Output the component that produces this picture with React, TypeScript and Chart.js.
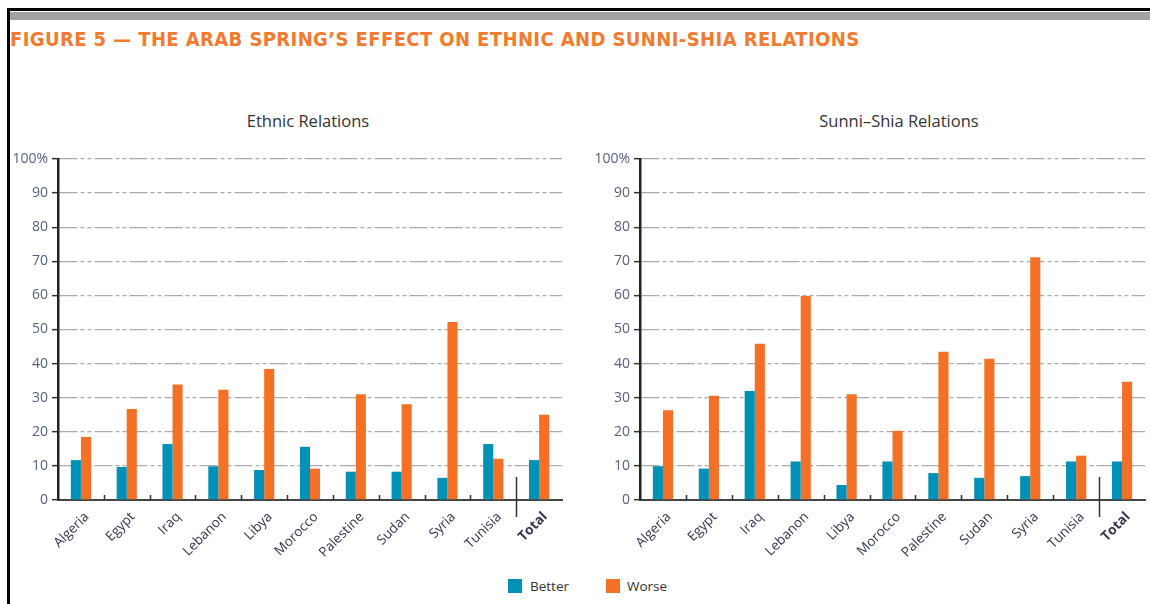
import React, { useEffect, useRef } from "react";
import { Chart, registerables } from "chart.js";

Chart.register(...registerables);

const categories = ["Algeria", "Egypt", "Iraq", "Lebanon", "Libya", "Morocco", "Palestine", "Sudan", "Syria", "Tunisia", "Total"];
const ethnicBetter = [11.7, 9.7, 16.4, 9.9, 8.8, 15.6, 8.3, 8.3, 6.5, 16.4, 11.7];
const ethnicWorse = [18.5, 26.7, 33.9, 32.3, 38.4, 9.2, 31.0, 28.1, 52.2, 12.1, 25.0];
const sunniBetter = [9.9, 9.2, 32.0, 11.3, 4.4, 11.3, 7.9, 6.5, 7.0, 11.3, 11.3];
const sunniWorse = [26.3, 30.6, 45.8, 59.8, 31.0, 20.3, 43.5, 41.4, 71.2, 13.0, 34.7];
const seriesNames = ["Better", "Worse"];
const panelTitles = ["Ethnic Relations", "Sunni\u2013Shia Relations"];
const figureTitle = "FIGURE 5 \u2014 THE ARAB SPRING\u2019S EFFECT ON ETHNIC AND SUNNI-SHIA RELATIONS";

const BLUE = "#0190b6";
const ORANGE = "#f47025";

const separatorPlugin = {
  id: "separators",
  afterDatasetsDraw(chart: any) {
    const xs = chart.scales.x;
    const bottom = chart.chartArea.bottom;
    const ctx = chart.ctx;
    ctx.save();
    ctx.strokeStyle = "#333";
    ctx.lineWidth = 1.5;
    for (let i = 1; i < categories.length; i++) {
      const px = Math.round((xs.getPixelForValue(i - 1) + xs.getPixelForValue(i)) / 2) + 0.5;
      const isSep = i === categories.length - 1;
      ctx.beginPath();
      ctx.moveTo(px, isSep ? bottom - 23 : bottom - 5);
      ctx.lineTo(px, isSep ? bottom + 17 : bottom);
      ctx.stroke();
    }
    ctx.restore();
  },
};

function Panel(props: {
  left: number;
  width: number;
  yAxisWidth: number;
  padRight: number;
  better: number[];
  worse: number[];
}) {
  const ref = useRef<HTMLCanvasElement>(null);
  useEffect(() => {
    const chart = new Chart(ref.current as HTMLCanvasElement, {
      type: "bar",
      data: {
        labels: categories,
        datasets: [
          { label: seriesNames[0], data: props.better, backgroundColor: BLUE, categoryPercentage: 0.44, barPercentage: 1.0 },
          { label: seriesNames[1], data: props.worse, backgroundColor: ORANGE, categoryPercentage: 0.44, barPercentage: 1.0 },
        ],
      },
      options: {
        animation: false,
        responsive: false,
        layout: { padding: { top: 19, right: props.padRight, left: 0, bottom: 0 } },
        plugins: { legend: { display: false }, tooltip: { enabled: false }, title: { display: false } },
        scales: {
          x: {
            grid: { display: false, drawTicks: false },
            border: { display: true, color: "#444", width: 2 },
            ticks: {
              autoSkip: false,
              maxRotation: 45,
              minRotation: 45,
              padding: 9,
              labelOffset: 6,
              color: "#33374d",
              font: (c: any) => ({ family: "Open Sans", size: 13.5, weight: c.index === categories.length - 1 ? "bold" : "normal" }),
            },
            afterFit: (s: any) => {
              s.height = 70;
            },
          },
          y: {
            min: 0,
            max: 100,
            ticks: {
              stepSize: 10,
              padding: 4,
              color: "#56617f",
              font: { family: "Open Sans", size: 14 },
              callback: (v: any) => (v === 100 ? "100%" : String(v)),
            },
            grid: { color: "#aaaaaa", lineWidth: 1.3, tickLength: 6, tickColor: "#333", tickWidth: 1.5 },
            border: { display: true, color: "#222", width: 2.5, dash: [18, 3, 4, 3, 4, 3] },
            afterFit: (s: any) => {
              s.width = props.yAxisWidth;
            },
          },
        },
      } as any,
      plugins: [separatorPlugin],
    });
    return () => chart.destroy();
  }, []);
  return (
    <canvas
      ref={ref}
      width={props.width}
      height={430}
      style={{ position: "absolute", left: props.left, top: 140, width: props.width, height: 430 }}
    />
  );
}

export default function App() {
  const text: React.CSSProperties = { position: "absolute", whiteSpace: "nowrap", fontFamily: "Open Sans", color: "#333" };
  return (
    <div style={{ position: "absolute", left: 0, top: 0, width: 1150, height: 604, background: "#fff", overflow: "hidden" }}>
      <div style={{ position: "absolute", left: 7, top: 8, width: 1143, height: 3, background: "#000" }} />
      <div style={{ position: "absolute", left: 7, top: 8, width: 3, height: 596, background: "#000" }} />
      <div style={{ position: "absolute", left: 10, top: 12, width: 1140, height: 8, background: "#a3a3a7" }} />
      <div
        style={{
          position: "absolute",
          left: 10,
          top: 29,
          fontFamily: "'DejaVu Sans Condensed', 'DejaVu Sans'",
          fontWeight: "bold",
          fontSize: 20,
          lineHeight: "20px",
          letterSpacing: "0.4px",
          color: "#f37a2f",
          whiteSpace: "nowrap",
        }}
      >
        {figureTitle}
      </div>
      <div style={{ ...text, left: 208, width: 200, textAlign: "center", top: 111, fontSize: 16.5, lineHeight: "20px" }}>{panelTitles[0]}</div>
      <div style={{ ...text, left: 799, width: 200, textAlign: "center", top: 111, fontSize: 16.5, lineHeight: "20px" }}>{panelTitles[1]}</div>
      <Panel left={0} width={580} yAxisWidth={58} padRight={18} better={ethnicBetter} worse={ethnicWorse} />
      <Panel left={580} width={570} yAxisWidth={60} padRight={5} better={sunniBetter} worse={sunniWorse} />
      <div style={{ position: "absolute", left: 508, top: 579, width: 14, height: 14, background: BLUE }} />
      <div style={{ ...text, left: 530, top: 578, fontSize: 13.5, lineHeight: "16px" }}>{seriesNames[0]}</div>
      <div style={{ position: "absolute", left: 606, top: 579, width: 14, height: 14, background: ORANGE }} />
      <div style={{ ...text, left: 627, top: 578, fontSize: 13.5, lineHeight: "16px" }}>{seriesNames[1]}</div>
    </div>
  );
}
